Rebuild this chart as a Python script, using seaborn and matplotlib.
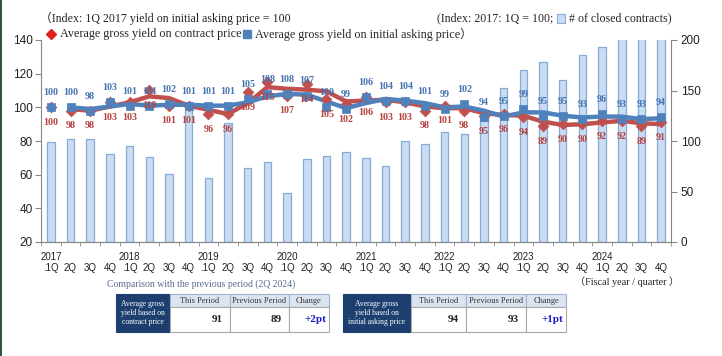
import numpy as np
import pandas as pd
import matplotlib
matplotlib.use("Agg")
import matplotlib.pyplot as plt
import seaborn as sns
from matplotlib.patches import Rectangle
from matplotlib.lines import Line2D

# -----------------------------------------------------------------------------
# Data, 2017 1Q .. 2024 4Q
# -----------------------------------------------------------------------------
years = ["2017", "2018", "2019", "2020", "2021", "2022", "2023", "2024"]
quarters = ["1Q", "2Q", "3Q", "4Q"]
contract_yield = [100, 98, 98, 103, 103, 110, 101, 101, 96, 96,
                  109, 115, 107, 114, 105, 102, 106, 103, 103, 98,
                  101, 98, 95, 96, 94, 89, 90, 90, 92, 92, 89, 91]
asking_yield = [100, 100, 98, 103, 101, 101, 102, 101, 101, 101,
                105, 108, 108, 107, 100, 99, 106, 104, 104, 101,
                99, 102, 94, 95, 99, 95, 95, 93, 96, 93, 93, 94]
closed_contracts = [99, 102, 102, 87, 95, 84, 67, 133, 63, 118,
                    73, 79, 49, 82, 85, 89, 83, 75, 100, 97,
                    109, 107, 128, 152, 170, 178, 160, 185, 193, 210, 215, 220]

table_headers = ["This Period", "Previous Period", "Change"]
contract_cmp = ["91", "89", "+2pt"]
asking_cmp = ["94", "93", "+1pt"]

RED, RED_TXT = "#c0504d", "#b5403c"
BLUE, BLUE_TXT = "#4f81bd", "#4472b0"
BAR_FC, BAR_EC = "#c9dcf2", "#86abd9"
NAVY = "#1d3f6f"
SERIF = ["Liberation Serif", "Noto Sans CJK JP"]
W, H = 722, 356

sns.set_style("ticks")
plt.rcParams["font.family"] = ["Liberation Sans", "DejaVu Sans"]

df = pd.DataFrame({"idx": range(len(contract_yield)),
                   "contract": contract_yield,
                   "asking": asking_yield,
                   "closed": closed_contracts})
# 2-period moving-average trendlines, like the original Excel chart
df["contract_ma"] = df["contract"].rolling(2).mean()
df["asking_ma"] = df["asking"].rolling(2).mean()

fig = plt.figure(figsize=(W / 100, H / 100), dpi=100)
ax = fig.add_axes([41 / W, 1 - 242 / H, 630 / W, 202 / H])
ax2 = ax.twinx()

# bars -> right axis, drawn behind the lines
sns.barplot(data=df, x="idx", y="closed", ax=ax2, color=BAR_FC,
            edgecolor=BAR_EC, linewidth=0.9, width=0.38, saturation=1)
ax.set_zorder(ax2.get_zorder() + 1)
ax.patch.set_visible(False)

sns.lineplot(data=df, x="idx", y="contract_ma", ax=ax, color=RED,
             linewidth=3.2, solid_joinstyle="round", errorbar=None)
sns.lineplot(data=df, x="idx", y="asking_ma", ax=ax, color=BLUE,
             linewidth=3.2, solid_joinstyle="round", errorbar=None)
sns.scatterplot(data=df, x="idx", y="contract", ax=ax, marker="D", s=30,
                color=RED, edgecolor=RED, linewidth=0.5, zorder=4)
sns.scatterplot(data=df, x="idx", y="asking", ax=ax, marker="s", s=32,
                color=BLUE, edgecolor=BLUE, linewidth=0.5, zorder=5)

for i, (c, a) in enumerate(zip(contract_yield, asking_yield)):
    ax.annotate(str(a), (i, a), xytext=(0, 10.5), textcoords="offset points",
                ha="center", va="center", fontsize=7.2, fontweight="bold",
                color=BLUE_TXT, family=SERIF, zorder=6)
    ax.annotate(str(c), (i, c), xytext=(0, -11), textcoords="offset points",
                ha="center", va="center", fontsize=7.2, fontweight="bold",
                color=RED_TXT, family=SERIF, zorder=6)

ax.set_xlim(-0.5, len(contract_yield) - 0.5)
ax.set_ylim(20, 140)
ax2.set_ylim(0, 200)
ax.set_yticks(range(20, 141, 20))
ax2.set_yticks(range(0, 201, 50))

xlabels = []
for y in years:
    for q in quarters:
        xlabels.append(f"{y}\n.{q}" if q == "1Q" else f"\n{q}")
ax.set_xticks(range(len(xlabels)))
ax.set_xticklabels(xlabels, fontsize=7, linespacing=1.2)
ax.set_xticks(np.arange(-0.5, len(xlabels), 1), minor=True)
ax.tick_params(axis="x", which="major", length=0, pad=7, colors="#222222")
ax.tick_params(axis="x", which="minor", length=3, color="#888888")
ax.tick_params(axis="y", length=4, pad=2, labelsize=8.5, color="#888888",
               labelcolor="#222222")
ax2.tick_params(axis="y", length=4, pad=3, labelsize=8.5, color="#888888",
                labelcolor="#222222")
for a in (ax, ax2):
    a.set_xlabel("")
    a.set_ylabel("")
    a.spines["top"].set_visible(False)
    for s in ("left", "right", "bottom"):
        a.spines[s].set_color("#888888")
        a.spines[s].set_linewidth(0.8)
ax.spines["right"].set_visible(False)
ax2.spines["left"].set_visible(False)


def fx(px):
    return px / W


def fy(py):
    return 1 - py / H


def px_rect(x0, y0, x1, y1, fc, ec, lw=0.8):
    fig.add_artist(Rectangle((fx(x0), fy(y1)), (x1 - x0) / W, (y1 - y0) / H,
                             transform=fig.transFigure, facecolor=fc,
                             edgecolor=ec, linewidth=lw))


# header texts and legend
fig.text(fx(40), fy(18), "（Index: 1Q 2017 yield on initial asking price = 100",
         ha="left", va="center", fontsize=8.6, family=SERIF)
fig.add_artist(Line2D([fx(51)], [fy(34)], marker="D", markersize=5,
                      color="#e0201b", transform=fig.transFigure))
fig.text(fx(60), fy(34), "Average gross yield on contract price",
         ha="left", va="center", fontsize=8.7, family=SERIF)
fig.add_artist(Line2D([fx(247)], [fy(34)], marker="s", markersize=5.5,
                      color=BLUE, transform=fig.transFigure))
fig.text(fx(255), fy(34), "Average gross yield on initial asking price）",
         ha="left", va="center", fontsize=8.7, family=SERIF)
fig.text(fx(553), fy(18), "(Index: 2017: 1Q = 100;",
         ha="right", va="center", fontsize=8.6, family=SERIF)
px_rect(557, 14, 565, 23, BAR_FC, BAR_EC)
fig.text(fx(569), fy(18), "# of closed contracts)",
         ha="left", va="center", fontsize=8.6, family=SERIF)
fig.text(fx(575), fy(282), "（Fiscal year / quarter ）",
         ha="left", va="center", fontsize=7.3, family=SERIF)
fig.text(fx(107), fy(284), "Comparison with the previous period (2Q 2024)",
         ha="left", va="center", fontsize=7, family=SERIF, color="#5b6e8c")


def draw_table(nx0, nx1, cols, label, values):
    px_rect(nx0, 294, nx1, 332, NAVY, NAVY)
    fig.text(fx((nx0 + nx1) / 2), fy(313), label, ha="center", va="center",
             fontsize=5.5, color="white", family=SERIF, linespacing=1.15)
    for k, (h, v) in enumerate(zip(table_headers, values)):
        x0, x1 = cols[k], cols[k + 1]
        px_rect(x0, 294, x1, 307, "#dbe5f1", "#9fb3cf")
        px_rect(x0, 307, x1, 332, "white", "#a8a8a8")
        fig.text(fx((x0 + x1) / 2), fy(301), h, ha="center", va="center",
                 fontsize=6, color="#333333", family=SERIF)
        is_chg = k == len(values) - 1
        fig.text(fx(x1 - (3 if is_chg else 7)), fy(320), v, ha="right",
                 va="center", fontsize=8, fontweight="bold", family=SERIF,
                 color="#1a1acc" if is_chg else "#222222")


draw_table(116, 169, [170, 230, 289, 329],
           "Average gross\nyield based on\ncontract price", contract_cmp)
draw_table(343, 410, [411, 466, 526, 566],
           "Average gross\nyield based on\ninitial asking price", asking_cmp)

# dark green strip on the left edge of the screenshot
px_rect(0, 0, 2, H, "#2d5a3a", "none", lw=0)

fig.savefig("out.png", dpi=100)
